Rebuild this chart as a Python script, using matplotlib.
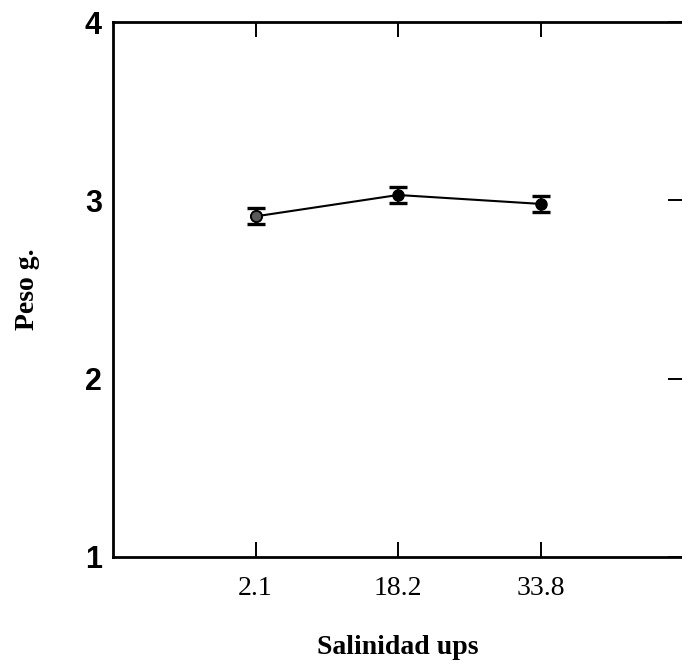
import matplotlib
matplotlib.use("Agg")
import matplotlib.pyplot as plt

# Mean weight by salinity treatment
salinity_labels = ["2.1", "18.2", "33.8"]
weight_mean = [2.91, 3.03, 2.98]
weight_err = [0.045, 0.045, 0.045]
y_ticks = [1, 2, 3, 4]

fig = plt.figure(figsize=(6.82, 6.69), dpi=100)
ax = fig.add_axes([113 / 682, 1 - 557 / 669, 570 / 682, (557 - 22) / 669])

x = list(range(1, len(salinity_labels) + 1))
ax.errorbar(x, weight_mean, yerr=weight_err, color="black", lw=1.5,
            elinewidth=1.6, capsize=6.5, capthick=2.4, marker="o",
            markersize=8, markerfacecolor="black", markeredgecolor="black",
            zorder=3)
# first treatment drawn with a lighter, hatched-looking fill
ax.plot(x[0], weight_mean[0], "o", ms=8, mfc="#5a5a5a", mec="black",
        mew=1.3, zorder=4)

ax.set_xlim(0, 4)
ax.set_ylim(1, 4)
ax.set_xticks(x)
ax.set_xticklabels(salinity_labels, family="Liberation Serif", fontsize=20)
ax.set_yticks(y_ticks)
ax.set_yticklabels([str(v) for v in y_ticks], family="Liberation Sans",
                   fontsize=22, fontweight="bold")

for s in ax.spines.values():
    s.set_linewidth(2.0)

ax.tick_params(axis="x", which="both", direction="in", length=11, width=1.4,
               top=True, bottom=True, pad=14)
ax.tick_params(axis="y", which="both", direction="in", length=11, width=1.4,
               left=False, right=True, pad=8)
ax.tick_params(axis="y", labelleft=True)

ax.set_xlabel("Salinidad ups", family="Liberation Serif", fontweight="bold",
              fontsize=20, labelpad=24)
ax.set_ylabel("Peso g.", family="Liberation Serif", fontweight="bold",
              fontsize=20, labelpad=32)

fig.savefig("out.png", dpi=100)
